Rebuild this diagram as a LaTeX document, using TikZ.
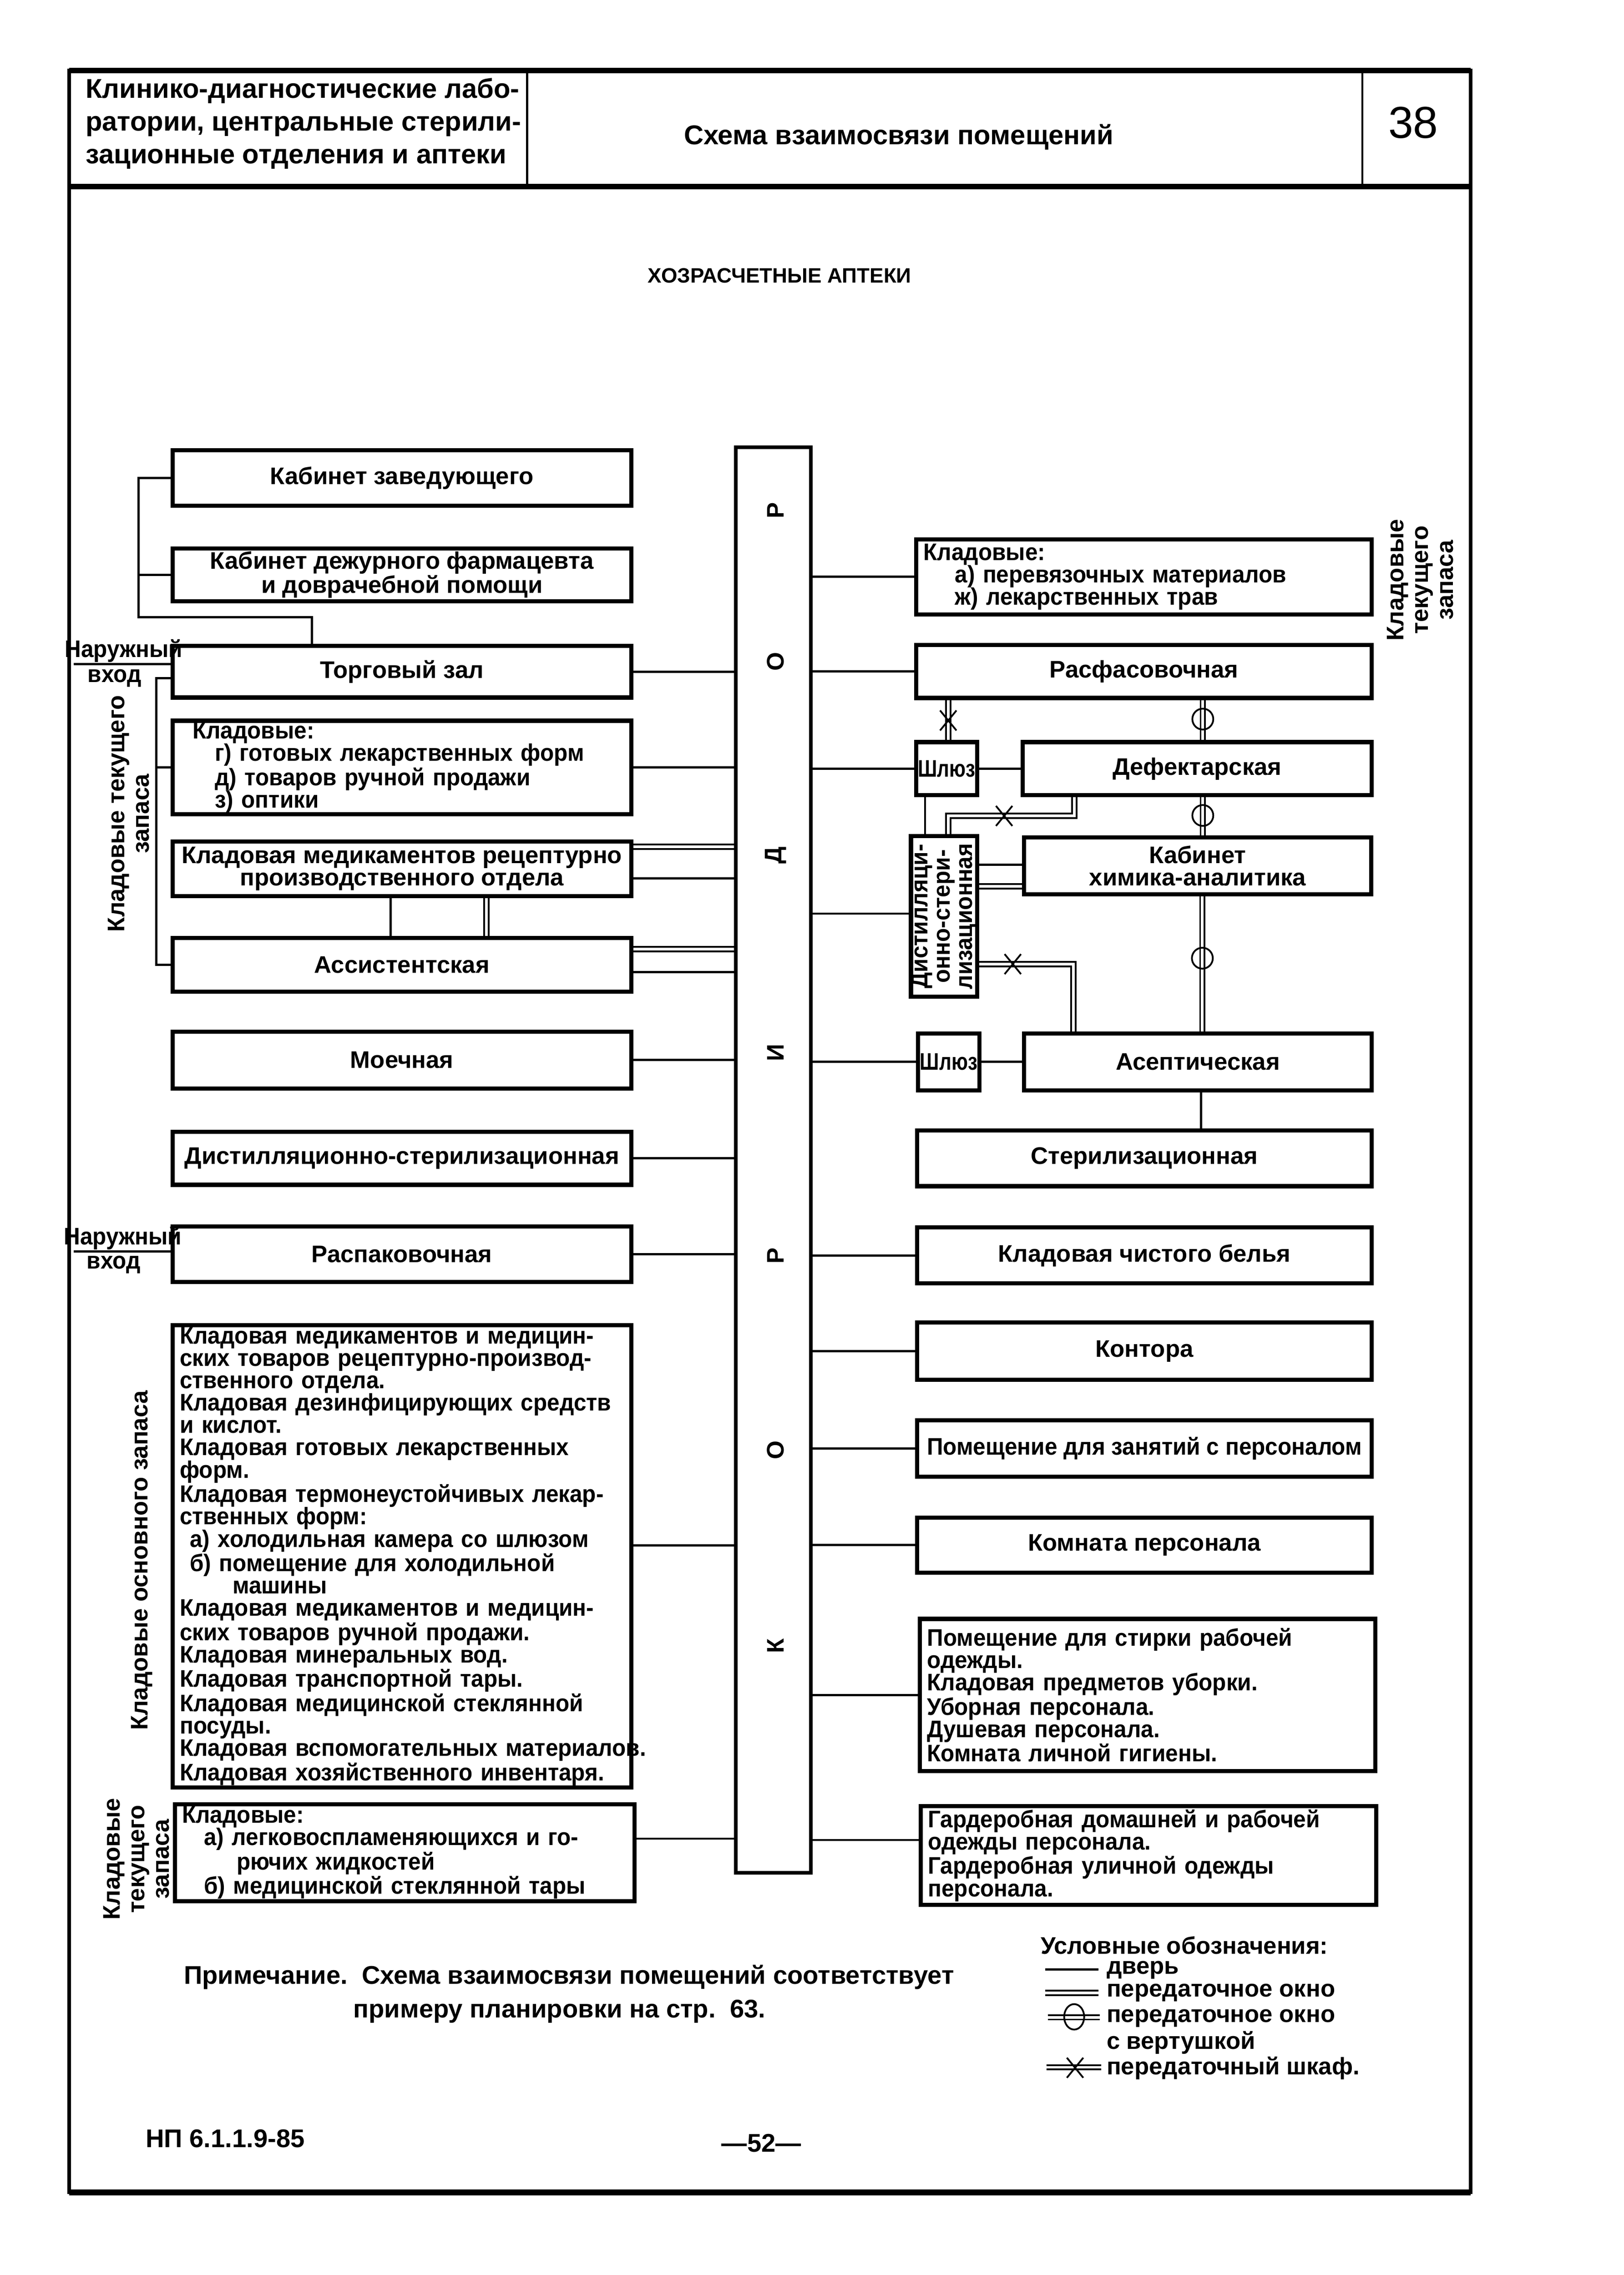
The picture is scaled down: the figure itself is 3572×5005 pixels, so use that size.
\documentclass[tikz,border=0pt]{standalone}
\usepackage{fontspec}
\setmainfont{Liberation Sans}
\newfontfamily\narrowfont{Liberation Sans}[FakeStretch=0.94]
\newfontfamily\thinfont{Liberation Sans}[FakeStretch=0.8]

\newcommand{\roomfont}{\fontsize{15pt}{14pt}\selectfont\bfseries\hyphenpenalty=10000\exhyphenpenalty=10000}
\newcommand{\listfont}{\narrowfont\bfseries\fontsize{15pt}{14pt}\selectfont\hyphenpenalty=10000\exhyphenpenalty=10000}
\newcommand{\shlfont}{\thinfont\bfseries\fontsize{15pt}{14pt}\selectfont}
\newcommand{\legfont}{\fontsize{15pt}{16pt}\selectfont\bfseries}
\newcommand{\sidefont}{\fontsize{15pt}{15.5pt}\selectfont\bfseries}
\newcommand{\headfont}{\fontsize{17pt}{20.5pt}\selectfont\bfseries}
\newcommand{\notefont}{\fontsize{16pt}{18pt}\selectfont\bfseries}
\newcommand{\korfont}{\fontsize{15pt}{15pt}\selectfont\bfseries}
% X of the transfer cupboard
\newcommand{\shkaf}[1]{\draw[spinner] (#1) ++(-18,-22) -- ++(36,44) ++(-36,0) -- ++(36,-44);}

\tikzset{%
  % Specifications for rooms and links:
  room/.style     = {rectangle, draw=black, line width=2.6pt, inner sep=0pt, inner xsep=1.6mm, anchor=north west, font=\roomfont},
  roomlist/.style = {room, align=left, font=\listfont},
  corridor/.style = {rectangle, draw=black, line width=2.2pt, anchor=north west},
  door/.style     = {line width=1.4pt},
  window/.style   = {double, double distance=1.7pt, line width=1.1pt},
  spinner/.style  = {line width=1.1pt},
  sidenote/.style = {rotate=90, align=center, font=\sidefont},
  legtext/.style  = {anchor=west, align=left, inner sep=0.5pt, font=\legfont},
}

\begin{document}
\begin{tikzpicture}[x=0.1mm, y=-0.1mm]
    \fill[white] (0,0) rectangle (3572,5005);
    \useasboundingbox (0,0) rectangle (3572,5005);

    % Frame and header
    \draw[line width=2.2pt] (152,155) rectangle (3235,4823);
    \draw[line width=3.4pt] (152,155) -- (3235,155);
    \draw[line width=3.4pt] (152,410) -- (3235,410);
    \draw[line width=3.8pt] (152,4823) -- (3235,4823);
    \draw[line width=1.4pt] (1160,155) -- (1160,410);
    \draw[line width=1.4pt] (2997,155) -- (2997,410);
    \node (hdleft) [anchor=west, align=left, font=\headfont] at (176,272)
        {Клинико-диагностические лабо-\\ратории, центральные стерили-\\зационные отделения и аптеки};
    \node (hdmid)  [font=\headfont] at (1977,302) {Схема взаимосвязи помещений};
    \node (hdnum)  [font=\fontsize{28pt}{30pt}\selectfont] at (3109,270) {38};
    \node (title)  [font=\fontsize{13pt}{14pt}\selectfont\bfseries] at (1715,606) {ХОЗРАСЧЕТНЫЕ АПТЕКИ};

    % Corridor
    \node (kor) [corridor, minimum width=16.5mm, minimum height=313.6mm] at (1615,980) {};
    \foreach \ch/\yy [count=\i] in {Р/1123, О/1455, Д/1882, И/2316, Р/2763, О/3190, К/3621}
        \node (kb\i) [rotate=90, font=\korfont] at (1706,\yy) {\ch};

    % Left rooms
    \node (kabzav) [room, minimum width=100.9mm, minimum height=12.2mm] at (375,986) {Кабинет заведующего};
    \node (dezh)   [room, align=center, minimum width=100.9mm, minimum height=11.6mm] at (375,1202)
        {Кабинет дежурного фармацевта\\и доврачебной помощи};
    \node (torg)   [room, minimum width=100.9mm, minimum height=11.4mm] at (375,1416) {Торговый зал};
    \node (kltek)  [roomlist, text width=97.7mm, minimum height=20.6mm] at (375,1581)
        {\hspace*{2.8mm}Кладовые:\\
         \hspace*{7.7mm}г) готовых лекарственных форм\\
         \hspace*{7.7mm}д) товаров ручной продажи\\
         \hspace*{7.7mm}з) оптики};
    \node (klrec)  [room, align=center, minimum width=100.9mm, minimum height=12.0mm] at (375,1847)
        {Кладовая медикаментов рецептурно\\производственного отдела};
    \node (assist) [room, minimum width=100.9mm, minimum height=11.8mm] at (375,2059) {Ассистентская};
    \node (moech)  [room, minimum width=100.9mm, minimum height=12.5mm] at (375,2265) {Моечная};
    \node (distL)  [room, minimum width=100.9mm, minimum height=11.7mm] at (375,2485) {Дистилляционно-стерилизационная};
    \node (raspak) [room, minimum width=100.9mm, minimum height=12.2mm] at (375,2694) {Распаковочная};
    \node (klosn)  [roomlist, text width=97.7mm, minimum height=101.7mm] at (375,2911)
        {\mbox{Кладовая медикаментов и медицин-}\\
         \mbox{ских товаров рецептурно-производ-}\\
         \mbox{ственного отдела.}\\
         \mbox{Кладовая дезинфицирующих средств}\\
         \mbox{и кислот.}\\
         \mbox{Кладовая готовых лекарственных}\\
         \mbox{форм.}\\
         \mbox{Кладовая термонеустойчивых лекар-}\\
         \mbox{ственных форм:}\\
         \hspace*{2.2mm}\mbox{а) холодильная камера со шлюзом}\\
         \hspace*{2.2mm}\mbox{б) помещение для холодильной}\\
         \hspace*{11.6mm}машины\\
         \mbox{Кладовая медикаментов и медицин-}\\
         \mbox{ских товаров ручной продажи.}\\
         \mbox{Кладовая минеральных вод.}\\
         \mbox{Кладовая транспортной тары.}\\
         \mbox{Кладовая медицинской стеклянной}\\
         \mbox{посуды.}\\
         \mbox{Кладовая вспомогательных материалов.}\\
         \mbox{Кладовая хозяйственного инвентаря.}};
    \node (klleg)  [roomlist, text width=97.9mm, minimum height=21.3mm] at (380,3965)
        {Кладовые:\\
         \hspace*{4.8mm}\mbox{а) легковоспламеняющихся и го-}\\
         \hspace*{12mm}рючих жидкостей\\
         \hspace*{4.8mm}\mbox{б) медицинской стеклянной тары}};

    % Right rooms
    \node (klperev) [roomlist, text width=97.0mm, minimum height=16.5mm] at (2011,1182)
        {Кладовые:\\
         \hspace*{6.9mm}а) перевязочных материалов\\
         \hspace*{6.9mm}ж) лекарственных трав};
    \node (rasf)    [room, minimum width=100.2mm, minimum height=11.7mm] at (2011,1414) {Расфасовочная};
    \node (shl1)    [room, inner xsep=0pt, font=\shlfont, minimum width=13.4mm, minimum height=11.7mm] at (2011,1628) {Шлюз};
    \node (def)     [room, minimum width=76.8mm, minimum height=11.7mm] at (2245,1628) {Дефектарская};
    \node (distR)   [room, rotate=90, anchor=center, align=center, inner xsep=0pt, font=\listfont,
                     minimum width=35.3mm, minimum height=14.6mm] at (2077,2016)
        {Дистилляци-\\онно-стери-\\лизационная};
    \node (kabhim)  [room, align=center, minimum width=76.4mm, minimum height=12.5mm] at (2248,1838)
        {Кабинет\\химика-аналитика};
    \node (shl2)    [room, inner xsep=0pt, font=\shlfont, minimum width=13.5mm, minimum height=12.5mm] at (2015,2269) {Шлюз};
    \node (asept)   [room, minimum width=76.5mm, minimum height=12.5mm] at (2248,2269) {Асептическая};
    \node (steril)  [room, minimum width=100mm, minimum height=12.3mm] at (2013,2482) {Стерилизационная};
    \node (belje)   [room, minimum width=100mm, minimum height=12.3mm] at (2013,2696) {Кладовая чистого белья};
    \node (kontora) [room, minimum width=100mm, minimum height=12.6mm] at (2013,2905) {Контора};
    \node (zanyat)  [room, font=\listfont, minimum width=100mm, minimum height=12.4mm] at (2013,3120) {Помещение для занятий с персоналом};
    \node (kompers) [room, minimum width=100mm, minimum height=12.1mm] at (2013,3334) {Комната персонала};
    \node (stirka)  [roomlist, text width=97.0mm, minimum height=33.5mm] at (2019,3557)
        {Помещение для стирки рабочей\\
         одежды.\\
         Кладовая предметов уборки.\\
         Уборная персонала.\\
         Душевая персонала.\\
         Комната личной гигиены.};
    \node (garderob) [roomlist, text width=97.0mm, minimum height=21.7mm] at (2021,3969)
        {Гардеробная домашней и рабочей\\
         одежды персонала.\\
         Гардеробная уличной одежды\\
         персонала.};

    % Side notes and entrances
    \node (notetek) [sidenote] at (283,1790) {Кладовые текущего\\запаса};
    \node (noteosn) [sidenote] at (312,3433) {Кладовые основного запаса};
    \node (noteleg) [sidenote] at (300,4090) {Кладовые\\текущего\\запаса};
    \node (noter)   [sidenote] at (3124,1276) {Кладовые\\текущего\\запаса};
    \node (vh1a) [font=\listfont] at (272,1432) {Наружный};
    \node (vh1b) [font=\listfont] at (252,1492) {вход};
    \node (vh2a) [font=\listfont] at (270,2724) {Наружный};
    \node (vh2b) [font=\listfont] at (250,2782) {вход};
    \coordinate (vh1) at (162,1461);
    \coordinate (vh2) at (162,2753);
    \draw[door] (vh1) -- (vh1 -| torg.west);
    \draw[door] (vh2) -- (vh2 -| raspak.west);

    % Left links
    \coordinate (brA) at (305,1358);
    \coordinate (brB) at (344,1492);
    \draw[door] (kabzav.west) -| (brA) -| (torg.north -| 686,0);
    \draw[door] (dezh.west) -- (dezh.west -| brA);
    \draw[door] (brB -| torg.west) -- (brB) |- (assist.west);
    \draw[door] (kltek.west) -- (kltek.west -| brB);
    \draw[door]   (klrec.south -| 859,0)  -- (assist.north -| 859,0);
    \draw[window] (klrec.south -| 1070,0) -- (assist.north -| 1070,0);

    \draw[door]   (torg.east)  -- (torg.east -| kor.west);
    \draw[door]   (kltek.east) -- (kltek.east -| kor.west);
    \draw[window] (klrec.east |- 0,1863)  -- (kor.west |- 0,1863);
    \draw[door]   (klrec.east |- 0,1932)  -- (kor.west |- 0,1932);
    \draw[window] (assist.east |- 0,2088) -- (kor.west |- 0,2088);
    \draw[door]   (assist.east |- 0,2139) -- (kor.west |- 0,2139);
    \draw[door]   (moech.east)  -- (moech.east -| kor.west);
    \draw[door]   (distL.east)  -- (distL.east -| kor.west);
    \draw[door]   (raspak.east) -- (raspak.east -| kor.west);
    \draw[door]   (klosn.east |- 0,3400) -- (kor.west |- 0,3400);
    \draw[door]   (klleg.east |- 0,4045) -- (kor.west |- 0,4045);

    % Right links
    \draw[door] (kor.east |- klperev.west) -- (klperev.west);
    \draw[door] (kor.east |- rasf.west)    -- (rasf.west);
    \draw[door] (kor.east |- shl1.west)    -- (shl1.west);
    \draw[door] (kor.east |- 0,2010)       -- (distR.north |- 0,2010);
    \draw[door] (kor.east |- shl2.west)    -- (shl2.west);
    \draw[door] (kor.east |- belje.west)   -- (belje.west);
    \draw[door] (kor.east |- kontora.west) -- (kontora.west);
    \draw[door] (kor.east |- zanyat.west)  -- (zanyat.west);
    \draw[door] (kor.east |- kompers.west) -- (kompers.west);
    \draw[door] (kor.east |- stirka.west)  -- (stirka.west);
    \draw[door] (kor.east |- 0,4048)       -- (garderob.west |- 0,4048);

    \draw[door]   (shl1.east) -- (shl1.east -| def.west);
    \draw[window] (rasf.south -| 2086,0) -- (shl1.north -| 2086,0);
    \draw[window] (rasf.south -| 2646,0) -- (def.north -| 2646,0);
    \draw[window] (def.south -| 2646,0)  -- (kabhim.north -| 2646,0);
    \draw[door]   (shl1.south -| 2035,0) -- (distR.east -| 2035,0);
    \draw[window] (def.south -| 2363,0) |- (2086,1795) -- (distR.east -| 2086,0);
    \draw[door]   (distR.south |- 0,1902) -- (kabhim.west |- 0,1902);
    \draw[window] (distR.south |- 0,1950) -- (kabhim.west |- 0,1950);
    \draw[window] (distR.south |- 0,2121) -| (asept.north -| 2361,0);
    \draw[window] (kabhim.south -| 2645,0) -- (asept.north -| 2645,0);
    \draw[door]   (shl2.east) -- (shl2.east -| asept.west);
    \draw[door]   (asept.south -| 2642,0) -- (steril.north -| 2642,0);

    % Window and cupboard marks
    \draw[spinner] (2646,1582) circle[radius=2.3mm];
    \draw[spinner] (2646,1794) circle[radius=2.3mm];
    \draw[spinner] (2645,2108) circle[radius=2.3mm];
    \shkaf{2086,1585}
    \shkaf{2209,1795}
    \shkaf{2228,2121}

    % Legend
    \node (legtitle) [legtext] at (2287,4280) {Условные обозначения:};
    \draw[door]   (2299,4333) -- (2416,4333);
    \draw[window] (2299,4384) -- (2416,4384);
    \draw[window] (2305,4438) -- (2419,4438);
    \draw[spinner] (2363,4437) ellipse[x radius=2.2mm, y radius=2.8mm];
    \draw[window] (2302,4548) -- (2422,4548);
    \shkaf{2365,4549}
    \node (legdoor) [legtext] at (2432,4334) {дверь};
    \node (legwin)  [legtext] at (2432,4384) {передаточное окно};
    \node (legspin1) [legtext] at (2432,4440) {передаточное окно};
    \node (legspin2) [legtext] at (2432,4494) {с вертушкой};
    \node (legshk)  [legtext] at (2432,4550) {передаточный шкаф.};

    % Notes
    \node (prim1) [anchor=west, font=\notefont] at (392,4350) {Примечание.\ \ Схема взаимосвязи помещений соответствует};
    \node (prim2) [anchor=west, font=\notefont] at (765,4425) {примеру планировки на стр.\ \ 63.};
    \node (np)    [anchor=west, font=\notefont] at (308,4705) {НП 6.1.1.9-85};
    \node (pg)    [font=\notefont] at (1675,4715) {—52—};
\end{tikzpicture}
\end{document}
